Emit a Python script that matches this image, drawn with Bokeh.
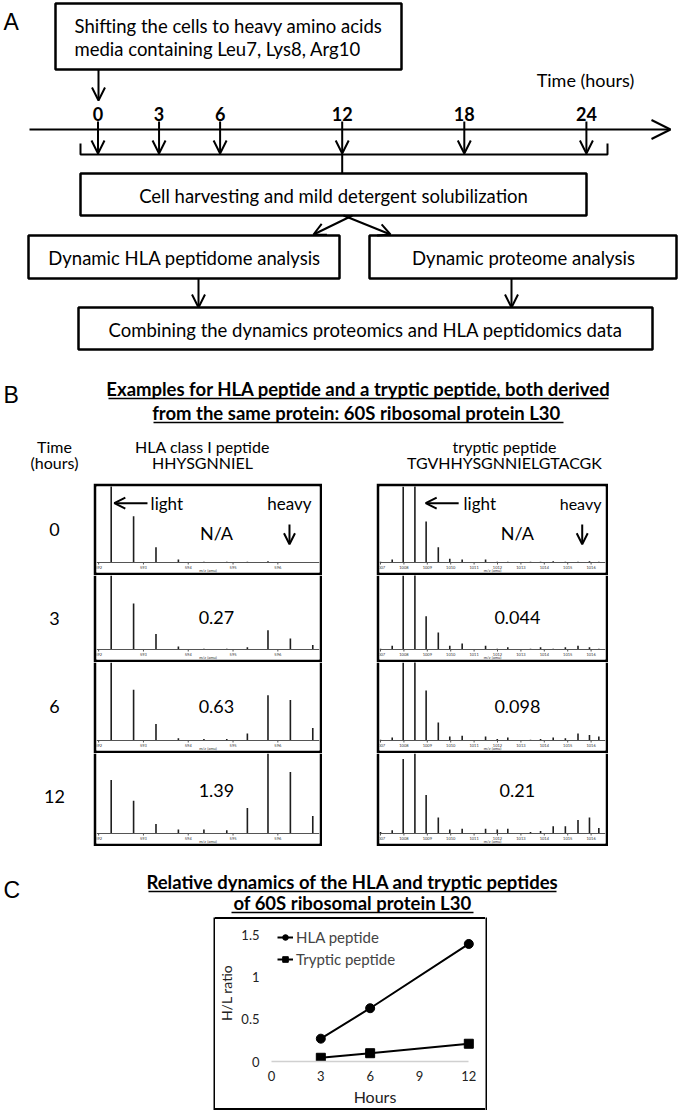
from bokeh.plotting import figure
from bokeh.layouts import column, row
from bokeh.models import (Range1d, Spacer, Arrow, OpenHead, FixedTicker, Legend,
                          LegendItem, NumeralTickFormatter)
from bokeh.core.properties import value
from bokeh.embed import file_html
from bokeh.resources import INLINE

# ---------------- data ----------------
time_points = [0, 3, 6, 12, 18, 24]
row_times = ["0", "3", "6", "12"]
hla_ratio_text = ["N/A", "0.27", "0.63", "1.39"]
tryp_ratio_text = ["N/A", "0.044", "0.098", "0.21"]

# HLA class I peptide HHYSGNNIEL (2+), m/z of the visible sticks
hla_mz = [592.28, 592.78, 593.28, 593.78, 594.35, 594.86, 595.32, 595.78, 596.28, 596.78]
hla_int_0 = [105, 61, 20, 4, 1, 1, 1, 1.5, 0.5, 0.5]
hla_int_3 = [100, 62, 21, 4, 1, 1, 3, 26, 15, 6]
hla_int_6 = [100, 65, 21, 3, 2, 2, 9, 58, 52, 16]
hla_int_12 = [67, 41, 12, 5, 5, 4, 32, 100, 77, 22]
hla_ticks = [592, 593, 594, 595, 596]

# tryptic peptide TGVHHYSGNNIELGTACGK (2+)
tryp_mz = [1007.00, 1007.50, 1007.97, 1008.47, 1008.95, 1009.47, 1009.96, 1010.49,
           1011.49, 1011.99, 1012.44, 1013.41, 1013.84, 1014.38, 1014.90, 1015.44,
           1015.93, 1016.33]
tryp_int_0 = [1, 4, 100, 105, 54, 20, 5, 4, 4, 1, 1, 1, 1, 1.5, 1, 1, 1.5, 1]
tryp_int_3 = [1, 5, 100, 105, 45, 23, 5, 8, 5, 1, 3, 1, 3, 1, 3, 5, 3, 1]
tryp_int_6 = [1, 4, 100, 105, 64, 23, 5, 6, 5, 2, 4, 1, 2, 4, 3, 9, 7, 5]
tryp_int_12 = [2, 4, 93, 100, 48, 20, 5, 6, 6, 5, 6, 2, 3, 9, 9, 17, 20, 7]
tryp_ticks = [1007, 1008, 1009, 1010, 1011, 1012, 1013, 1014, 1015, 1016]

# panel C
hours = [3, 6, 12]
hla_hl = [0.27, 0.63, 1.39]
tryp_hl = [0.044, 0.098, 0.21]
hours_ticks = [0, 3, 6, 9, 12]
ratio_ticks = [0, 0.5, 1, 1.5]

FONT = "Lato"
PFONT = "Liberation Sans"


def blank(w, h, xr, yr, bg="white"):
    p = figure(width=w, height=h, x_range=Range1d(*xr), y_range=Range1d(*yr),
               x_axis_type=None, y_axis_type=None, toolbar_location=None,
               output_backend="svg", min_border=0, outline_line_color=None,
               background_fill_color=bg, border_fill_color=bg, title=None)
    return p


def vbar_fig(w, h):
    return blank(w, h, (0, 1), (0, 1), bg="black")


def hbar(w, h):
    return Spacer(width=w, height=h, styles={"background-color": "black"})


def T(p, x, y, s, size=17, bold=False, align="center", font=FONT):
    p.text(x=[x], y=[y], text=[s], text_font=value(font), text_font_size=f"{size}px",
           text_font_style="bold" if bold else "normal", text_align=align,
           text_baseline="middle", text_color="black")


def box(p, l, r, t, b, lw=2.5):
    p.quad(left=[l], right=[r], top=[t], bottom=[b], fill_color=None,
           line_color="black", line_width=lw)


def arrow(p, x0, y0, x1, y1, size=13, lw=2):
    p.add_layout(Arrow(x_start=x0, y_start=y0, x_end=x1, y_end=y1, line_width=lw,
                       line_color="black",
                       end=OpenHead(size=size, line_width=lw, line_color="black")))


# ---------------- panel A + headers of B ----------------
top = blank(680, 483, (0, 680), (483, 0))
T(top, 3, 21, "A", size=23, align="left", font=PFONT)
box(top, 55, 401, 3, 69)
T(top, 74, 25, "Shifting the cells to heavy amino acids", size=18.5, align="left")
T(top, 74, 48, "media containing Leu7, Lys8, Arg10", size=18.5, align="left")
arrow(top, 98, 69, 98, 100)
T(top, 585, 79, "Time (hours)", size=18)

tx = [97.5 + 20.35 * t for t in time_points]
for t, x in zip(time_points, tx):
    T(top, x, 113, str(t), size=18, bold=True)
    arrow(top, x, 121, x, 153)
arrow(top, 29, 129, 670, 129, size=19)
top.line([80, 80, 607, 607], [143, 154, 154, 143], line_color="black", line_width=2)
x12 = tx[time_points.index(12)]
top.line([x12, x12], [154, 173], line_color="black", line_width=2)

box(top, 80, 586, 173, 215)
T(top, 333, 195, "Cell harvesting and mild detergent solubilization", size=18.5)
arrow(top, 352, 215, 313, 234, size=12)
arrow(top, 343, 215, 390, 234, size=12)
box(top, 28, 339, 235, 278)
T(top, 184, 257, "Dynamic HLA peptidome analysis", size=18.5)
box(top, 369, 676, 235, 278)
T(top, 523, 257, "Dynamic proteome analysis", size=18.5)
arrow(top, 198, 278, 198, 307)
arrow(top, 511, 278, 511, 307)
box(top, 78, 652, 307, 349)
T(top, 365, 329, "Combining the dynamics proteomics and HLA peptidomics data", size=18.5)

T(top, 3, 394, "B", size=23, align="left", font=PFONT)
T(top, 358, 388, "Examples for HLA peptide and a tryptic peptide, both derived", size=18.5, bold=True)
T(top, 358, 412, "from the same protein:  60S ribosomal protein L30", size=18.5, bold=True)
top.segment(x0=[108, 153], y0=[398, 422], x1=[608, 563], y1=[398, 422],
            line_color="black", line_width=1.5)
T(top, 54, 446, "Time", size=16)
T(top, 54, 462, "(hours)", size=16)
T(top, 202, 446, "HLA class I peptide", size=16)
T(top, 202, 462, "HHYSGNNIEL", size=16)
T(top, 504, 446, "tryptic peptide", size=16)
T(top, 504, 462, "TGVHHYSGNNIELGTACGK", size=16)


# ---------------- panel B spectra ----------------
BELOW = 10  # px under the baseline kept for the small m/z axis


def spectrum(w, h, top_b, mz, inten, xr, ticks, ratio_text, rx, ry):
    frame_h = h - top_b - 3
    ppu = (frame_h - BELOW) / 100.0
    p = figure(width=w, height=h, x_range=Range1d(*xr),
               y_range=Range1d(-BELOW / ppu, 100), x_axis_type=None, y_axis_type=None,
               toolbar_location=None, output_backend="svg", title=None,
               min_border_left=3, min_border_right=3, min_border_top=top_b,
               min_border_bottom=3, border_fill_color="black",
               background_fill_color="white", outline_line_color=None)
    p.segment(x0=mz, y0=[0] * len(mz), x1=mz, y1=inten, line_color="#1e1e1e",
              line_width=1.6)
    # small m/z axis
    p.segment(x0=[xr[0]], y0=[0], x1=[xr[1]], y1=[0], line_color="#555555", line_width=1)
    p.segment(x0=ticks, y0=[0] * len(ticks), x1=ticks, y1=[-2 / ppu] * len(ticks),
              line_color="#555555", line_width=1)
    p.text(x=ticks, y=[-5 / ppu] * len(ticks), text=[str(t) for t in ticks],
           text_font=value(FONT), text_font_size="4px", text_align="center",
           text_baseline="middle", text_color="#333333")
    p.text(x=[(xr[0] + xr[1]) / 2], y=[-8.3 / ppu], text=["m/z (amu)"],
           text_font=value(FONT), text_font_size="4px", text_align="center",
           text_baseline="middle", text_color="#333333")
    T(p, rx, ry, ratio_text, size=18)
    return p


row_h = [92, 87, 91, 93]
row_top = [3, 0, 0, 0]
ratio_y = [39, 43, 44, 54]
hla_ints = [hla_int_0, hla_int_3, hla_int_6, hla_int_12]
tryp_ints = [tryp_int_0, tryp_int_3, tryp_int_6, tryp_int_12]
hla_xr = (591.952, 596.930)
tryp_xr = (1006.957, 1016.615)

left_specs, right_specs = [], []
for i in range(4):
    left_specs.append(spectrum(229, row_h[i], row_top[i], hla_mz, hla_ints[i], hla_xr,
                               hla_ticks, hla_ratio_text[i], 594.63, ratio_y[i]))
    right_specs.append(spectrum(232, row_h[i], row_top[i], tryp_mz, tryp_ints[i], tryp_xr,
                                tryp_ticks, tryp_ratio_text[i], 1012.85, ratio_y[i]))

# light / heavy annotations in the first row
sl, sr = left_specs[0], right_specs[0]
arrow(sl, 593.09, 78, 592.35, 78, size=11)
T(sl, 593.16, 78, "light", size=17, align="left")
T(sl, 596.26, 78, "heavy", size=17)
arrow(sl, 596.26, 50, 596.26, 24, size=11)
arrow(sr, 1010.34, 78, 1008.93, 78, size=11)
T(sr, 1010.55, 78, "light", size=17, align="left")
T(sr, 1015.55, 78, "heavy", size=16)
arrow(sr, 1015.62, 50, 1015.62, 24, size=11)

time_fig = blank(93, 363, (0, 93), (846, 483))
for s, y in zip(row_times, [529, 618, 706, 796]):
    T(time_fig, 54, y, s, size=18)

spectra_row = row(time_fig, column(*left_specs), Spacer(width=54, height=363),
                  column(*right_specs), Spacer(width=72, height=363))

# ---------------- panel C ----------------
mid = blank(680, 71, (0, 680), (917, 846))
T(mid, 3, 889, "C", size=23, align="left", font=PFONT)
T(mid, 352, 881, "Relative dynamics of the HLA and tryptic peptides", size=18.5, bold=True)
T(mid, 352, 902, "of 60S ribosomal protein L30", size=18.5, bold=True)
mid.segment(x0=[148, 231], y0=[891, 912], x1=[556, 473], y1=[891, 912],
            line_color="black", line_width=1.5)

chart = figure(width=270, height=189, x_range=Range1d(0, 12.59),
               y_range=Range1d(0, 1.62), toolbar_location=None, output_backend="svg",
               min_border_left=50, min_border_right=7, min_border_top=5,
               min_border_bottom=45, outline_line_color=None, title=None)
chart.grid.visible = False
l1 = chart.line(hours, hla_hl, line_color="black", line_width=2)
m1 = chart.scatter(hours, hla_hl, marker="circle", size=9, fill_color="black",
                   line_color="black")
l2 = chart.line(hours, tryp_hl, line_color="black", line_width=2)
m2 = chart.scatter(hours, tryp_hl, marker="square", size=9, fill_color="black",
                   line_color="black")
legend = Legend(items=[LegendItem(label="HLA peptide", renderers=[l1, m1]),
                       LegendItem(label="Tryptic peptide", renderers=[l2, m2])],
                location=(6, 93), padding=0, spacing=4, glyph_width=16,
                glyph_height=14, label_standoff=3, label_text_font=FONT,
                label_text_font_size="15px", border_line_color=None,
                background_fill_alpha=0, margin=0)
chart.add_layout(legend)

for ax in (chart.xaxis[0], chart.yaxis[0]):
    ax.major_tick_line_color = None
    ax.minor_tick_line_color = None
    ax.major_tick_out = 0
    ax.major_tick_in = 0
    ax.minor_tick_out = 0
    ax.minor_tick_in = 0
    ax.major_label_text_font = FONT
    ax.major_label_text_font_size = "13px"
    ax.major_label_text_color = "#222222"
    ax.axis_label_text_font = FONT
    ax.axis_label_text_font_style = "normal"
    ax.axis_label_text_color = "#222222"

xa = chart.xaxis[0]
xa.ticker = FixedTicker(ticks=hours_ticks)
xa.bounds = (min(hours_ticks), max(hours_ticks))
xa.axis_line_color = "#d0d0d0"
xa.axis_line_width = 1.3
xa.major_label_standoff = 9
xa.axis_label = "Hours"
xa.axis_label_text_font_size = "16px"
xa.axis_label_standoff = 3

ya = chart.yaxis[0]
ya.ticker = FixedTicker(ticks=ratio_ticks)
ya.formatter = NumeralTickFormatter(format="0.[0]")
ya.axis_line_color = None
ya.major_label_standoff = 12
ya.axis_label = "H/L ratio"
ya.axis_label_text_font_size = "14px"
ya.axis_label_standoff = 3

chart_row = row(Spacer(width=213, height=193), vbar_fig(2, 193),
                column(hbar(270, 2), chart, hbar(270, 2)), vbar_fig(2, 193),
                Spacer(width=193, height=193))

layout = column(top, spectra_row, mid, chart_row)
open("out.html", "w").write(file_html(layout, INLINE))
